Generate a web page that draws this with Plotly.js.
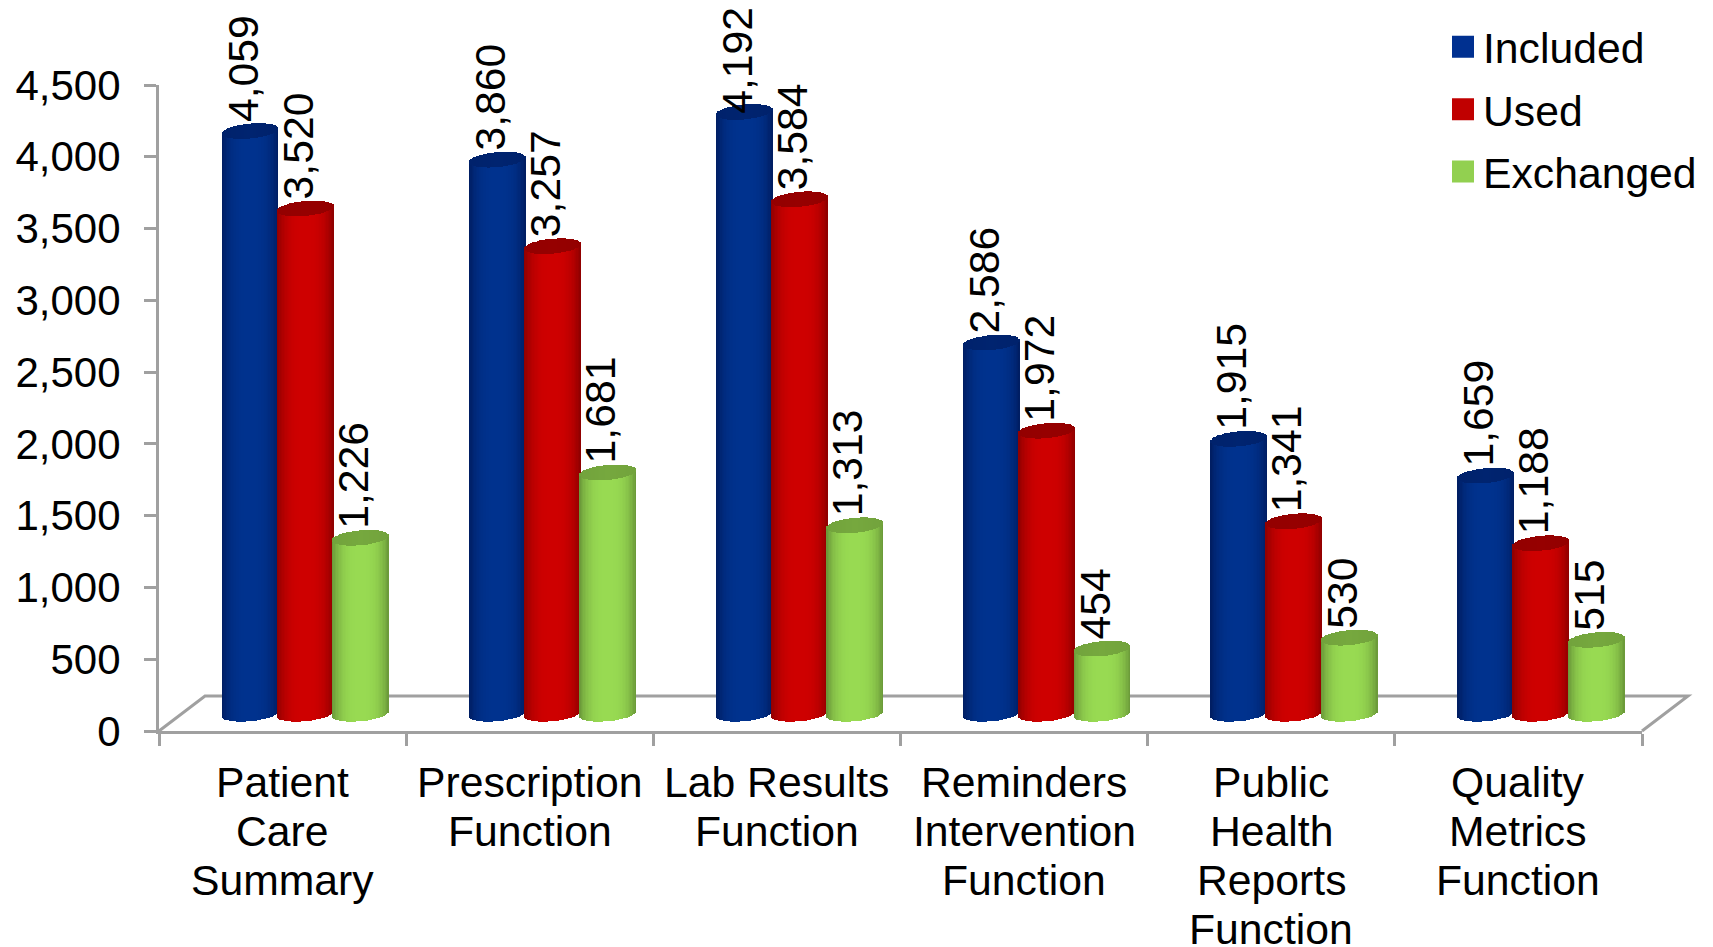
<!DOCTYPE html>
<html>
<head>
<meta charset="utf-8">
<script src="https://cdn.plot.ly/plotly-3.0.1.min.js"></script>
<style>html,body{margin:0;padding:0;background:#fff}#chart{width:1713px;height:947px}</style>
</head>
<body>
<div id="chart"></div>
<script>
// Function counts per category
const categoryLines = [
  ["Patient", "Care", "Summary"],
  ["Prescription", "Function"],
  ["Lab Results", "Function"],
  ["Reminders", "Intervention", "Function"],
  ["Public", "Health", "Reports", "Function"],
  ["Quality", "Metrics", "Function"]
];
const included = [4059, 3860, 4192, 2586, 1915, 1659];
const used = [3520, 3257, 3584, 1972, 1341, 1188];
const exchanged = [1226, 1681, 1313, 454, 530, 515];
const yTicks = [0, 500, 1000, 1500, 2000, 2500, 3000, 3500, 4000, 4500];

// Per-series look: centre and edge shades of the cylinder, plus the darker cap.
// labelDrop pulls a label down onto its cylinder where it would leave the page.
const seriesStyles = [
  {name: "Included", values: included, offset: 0.368, key: "#003090",
   centre: [0, 50, 142], edge: [0, 28, 96], cap: [0, 36, 112],
   labelDrop: [0, 0, 76, 0, 0, 0]},
  {name: "Used", values: used, offset: 0.591, key: "#C00000",
   centre: [206, 0, 0], edge: [140, 0, 0], cap: [150, 0, 0],
   labelDrop: [0, 0, 0, 0, 0, 0]},
  {name: "Exchanged", values: exchanged, offset: 0.815, key: "#92D050",
   centre: [152, 218, 82], edge: [104, 150, 56], cap: [118, 168, 62],
   labelDrop: [0, 0, 0, 0, 0, 0]}
];

const FONT = "Liberation Sans, Arial, sans-serif";
const TEXT_SIZE = 42.7;
const STRIPS = 40;          // vertical strips that make up one cylinder
const BAR_WIDTH = 0.23;     // cylinder width, in category units
const CAP_ARC = 52;         // half height of the end ellipse, in value units
const CAP_TILT = 17;        // end ellipses lean up to the right
const LABEL_LIFT = 42;      // gap from the value to the foot of its label
const LABEL_SHIFT = -0.03;  // value labels sit a little left of the cylinder axis
const FLOOR_DX = 46 / 1483; // floor depth as a share of the plot width and height
const FLOOR_DY = 35 / 646;
const KEY_HALF = 11;        // half the side of a legend key, in pixels

const mix = (a, b, t) => a.map((v, i) => Math.round(v + (b[i] - v) * t));
const rgb = c => `rgb(${c[0]},${c[1]},${c[2]})`;

// One cylinder is a run of thin bars: each keeps the bar's value as its height
// and has its foot moved along the end ellipse.
function cylinderTraces(style) {
  const body = {x: [], y: [], base: [], color: [], width: []};
  const cap = {x: [], y: [], base: [], color: [], width: []};
  const stripW = BAR_WIDTH / STRIPS;
  style.values.forEach((value, cat) => {
    for (let s = 0; s < STRIPS; s++) {
      const u = -1 + (2 * s + 1) / STRIPS;
      const arc = CAP_ARC * Math.sqrt(1 - u * u);
      const lean = CAP_TILT * u;
      const x = cat + style.offset + u * BAR_WIDTH / 2;
      const shade = 1 - Math.pow(Math.abs(u), 3);
      body.x.push(x); body.y.push(value); body.base.push(lean - arc);
      body.color.push(rgb(mix(style.edge, style.centre, shade))); body.width.push(stripW);
      cap.x.push(x); cap.y.push(2 * arc); cap.base.push(value + lean - arc);
      cap.color.push(rgb(mix(style.cap, style.edge, Math.abs(u) * 0.3))); cap.width.push(stripW);
    }
  });
  return [body, cap].map(p => ({
    type: "bar", x: p.x, y: p.y, base: p.base, width: p.width, yaxis: "y2",
    marker: {color: p.color, line: {width: 0}}, showlegend: false, hoverinfo: "skip",
    cliponaxis: false
  }));
}

// Transparent bars that carry the rotated value labels
function labelTrace(style) {
  return {
    type: "bar", yaxis: "y2", showlegend: false, hoverinfo: "skip",
    x: style.values.map((v, i) => i + style.offset + LABEL_SHIFT),
    y: style.values.map((v, i) => v + LABEL_LIFT - style.labelDrop[i]),
    width: BAR_WIDTH,
    marker: {color: "rgba(0,0,0,0)", line: {width: 0}},
    text: style.values.map(v => v.toLocaleString("en-US")),
    textposition: "outside", textangle: -90, constraintext: "none", cliponaxis: false,
    textfont: {family: FONT, size: TEXT_SIZE, color: "#000"}
  };
}

// Legend-only entries with a flat square key
function legendTrace(style) {
  return {
    type: "scatter", mode: "markers", x: [null], y: [null], name: style.name,
    legendgroup: style.name,
    marker: {symbol: "square", size: 22, color: style.key}, hoverinfo: "skip"
  };
}

const traces = [
  ...seriesStyles.flatMap(cylinderTraces),
  ...seriesStyles.map(labelTrace),
  ...seriesStyles.map(legendTrace)
];

// Category names, one annotation per line for a tight line pitch
const annotations = [];
categoryLines.forEach((lines, cat) => lines.forEach((line, n) => {
  annotations.push({
    text: line, x: cat + 0.5, xref: "x", y: (731 - (782 + 49 * n)) / 646, yref: "paper",
    xanchor: "center", yanchor: "middle", showarrow: false,
    font: {family: FONT, size: TEXT_SIZE, color: "#000"}
  });
}));

const AXIS = "#A0A0A0";
const AXIS_W = 3;
const layout = {
  width: 1713, height: 947,
  margin: {l: 159, r: 71, t: 85, b: 216, autoexpand: false},
  paper_bgcolor: "#fff", plot_bgcolor: "rgba(0,0,0,0)",
  font: {family: FONT, color: "#000"},
  barmode: "overlay", bargap: 0,
  xaxis: {
    range: [0, 6], tickvals: [0, 1, 2, 3, 4, 5, 6], showticklabels: false,
    ticks: "outside", ticklen: 12, tickwidth: AXIS_W, tickcolor: AXIS,
    showline: true, linecolor: AXIS, linewidth: AXIS_W, showgrid: false, zeroline: false
  },
  yaxis: {
    range: [0, 4500], tickvals: yTicks, tickformat: ",",
    tickfont: {family: FONT, size: 42, color: "#000"},
    ticks: "outside", ticklen: 12, tickwidth: AXIS_W, tickcolor: AXIS, ticklabelstandoff: 15,
    showline: true, linecolor: AXIS, linewidth: AXIS_W, showgrid: false, zeroline: false
  },
  // Same scale as yaxis; its zero sits on the floor, in from the front edge
  yaxis2: {
    overlaying: "y", range: [-120, 4380], visible: false, fixedrange: true
  },
  // Floor outline, in paper units so it can run past the plot's right edge
  shapes: [{
    type: "path", xref: "paper", yref: "paper", layer: "below",
    path: `M 0 0 L ${FLOOR_DX} ${FLOOR_DY} L ${1 + FLOOR_DX} ${FLOOR_DY} L 1 0`,
    line: {color: AXIS, width: AXIS_W}
  }],
  annotations,
  legend: {
    x: (1443 - 159) / 1483, xanchor: "left", y: (731 - 12.5) / 646, yanchor: "top",
    font: {family: FONT, size: TEXT_SIZE, color: "#000"},
    bgcolor: "rgba(0,0,0,0)", traceorder: "grouped", tracegroupgap: 3.9
  },
  showlegend: true
};

Plotly.newPlot("chart", traces, layout, {displayModeBar: false, staticPlot: true}).then(() => {
  // Legend markers are capped in size by the library; enlarge the keys afterwards
  const h = KEY_HALF;
  document.querySelectorAll(".legend .legendpoints path").forEach(p => {
    p.setAttribute("d", `M${h},${h}H${-h}V${-h}H${h}Z`);
  });
});
</script>
</body>
</html>
